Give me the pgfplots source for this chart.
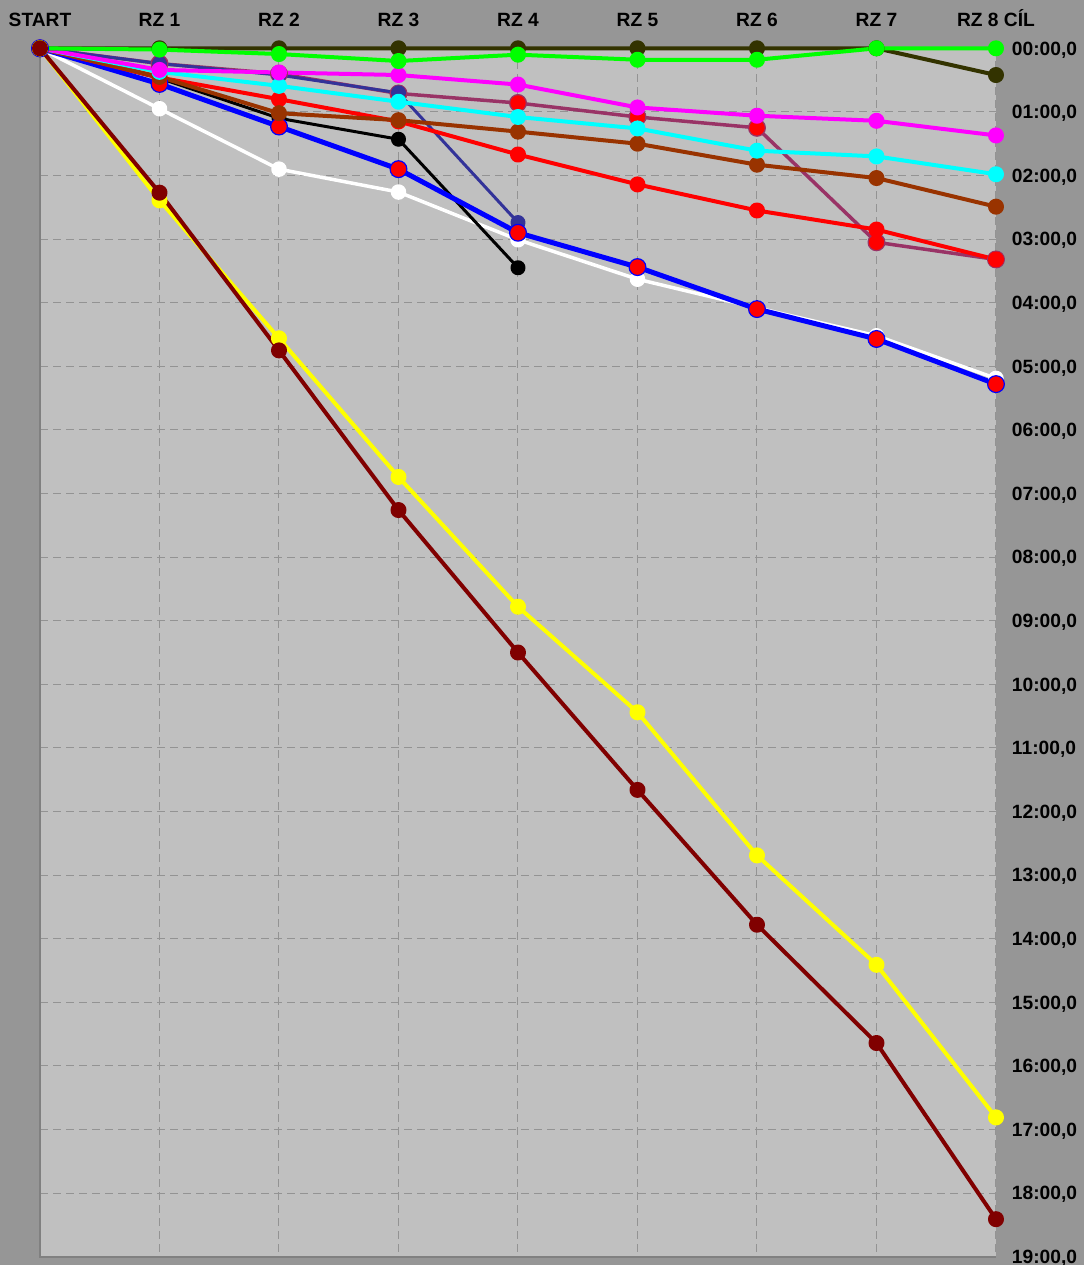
\documentclass[border=0pt]{standalone}
\usepackage{fontspec}
\setmainfont{Liberation Sans}
\usepackage{pgfplots}
\pgfplotsset{compat=1.18}
\definecolor{outerbg}{HTML}{969696}
\definecolor{plotbg}{HTML}{C0C0C0}
\definecolor{gridc}{HTML}{939393}
\definecolor{axgray}{HTML}{808080}
\definecolor{cPlum}{HTML}{993366}
\definecolor{cSlate}{HTML}{333399}
\definecolor{cOlive}{HTML}{333300}
\definecolor{cBrown}{HTML}{993300}
\definecolor{cMaroon}{HTML}{800000}
\definecolor{cGreen}{HTML}{00FF00}
\definecolor{cCyan}{HTML}{00FFFF}
\definecolor{cMag}{HTML}{FF00FF}
\definecolor{cYellow}{HTML}{FFFF00}
\definecolor{cRed}{HTML}{FF0000}
\definecolor{cBlue}{HTML}{0000FF}
\begin{document}
\begin{tikzpicture}
\fill[outerbg] (0,0) rectangle (542pt,632.5pt);
\begin{axis}[
  at={(20pt,4.15pt)}, anchor=south west,
  scale only axis, width=478pt, height=604.2pt,
  xmin=0, xmax=8, ymin=0, ymax=19, y dir=reverse,
  clip=false,
  axis background/.style={fill=plotbg},
  axis line style={draw=none},
  xtick={0,1,2,3,4,5,6,7,8},
  xticklabels={START,RZ 1,RZ 2,RZ 3,RZ 4,RZ 5,RZ 6,RZ 7,RZ 8 CÍL},
  ytick={0,1,...,19},
  yticklabels={{00:00,0},{01:00,0},{02:00,0},{03:00,0},{04:00,0},{05:00,0},{06:00,0},{07:00,0},{08:00,0},{09:00,0},{10:00,0},{11:00,0},{12:00,0},{13:00,0},{14:00,0},{15:00,0},{16:00,0},{17:00,0},{18:00,0},{19:00,0}},
  xticklabel pos=upper, yticklabel pos=right,
  major tick length=0pt,
  grid=major,
  major grid style={gridc, dash pattern=on 4pt off 2.5pt, line width=0.5pt},
  tick label style={font=\fontsize{9.6}{11}\selectfont\bfseries, inner sep=0pt},
  x tick label style={anchor=center, text height=7pt, text depth=0pt, yshift=14.4pt},
  y tick label style={anchor=west, text height=6.8pt, text depth=0pt, xshift=7.8pt},
  every axis plot/.append style={line join=round},
]
\draw[axgray, line width=1pt] (axis cs:0,0) -- (axis cs:0,19) -- (axis cs:8,19);
% plum (big red markers with plum outline)
\addplot[cPlum, line width=1.75pt, mark=*, mark size=4.2pt, mark options={fill=cRed, draw=cPlum, line width=0.6pt}] coordinates {
(0,0) (1,0.24) (2,0.40) (3,0.71) (4,0.86) (5,1.08) (6,1.25) (7,3.05) (8,3.32)};
% slate
\addplot[cSlate, line width=1.5pt, mark=*, mark size=3pt, mark options={fill=cSlate, draw=cSlate}] coordinates {
(0,0) (1,0.24) (2,0.42) (3,0.70) (4,2.74)};
% white
\addplot[white, line width=1.75pt, mark=*, mark size=3pt, mark options={fill=white, draw=white}] coordinates {
(0,0) (1,0.95) (2,1.90) (3,2.26) (4,3.01) (5,3.63) (6,4.08) (7,4.52) (8,5.19)};
% black
\addplot[black, line width=1.5pt, mark=*, mark size=3pt, mark options={fill=black, draw=black}] coordinates {
(0,0) (1,0.47) (2,1.10) (3,1.43) (4,3.45)};
% blue (big red markers with blue outline)
\addplot[cBlue, line width=2.5pt, mark=*, mark size=4.2pt, mark options={fill=cRed, draw=cBlue, line width=0.6pt}] coordinates {
(0,0) (1,0.56) (2,1.23) (3,1.90) (4,2.90) (5,3.44) (6,4.10) (7,4.57) (8,5.28)};
% red
\addplot[cRed, line width=2pt, mark=*, mark size=3pt, mark options={fill=cRed, draw=cRed}] coordinates {
(0,0) (1,0.46) (2,0.80) (3,1.15) (4,1.67) (5,2.14) (6,2.55) (7,2.85) (8,3.32)};
% brown
\addplot[cBrown, line width=2pt, mark=*, mark size=3pt, mark options={fill=cBrown, draw=cBrown}] coordinates {
(0,0) (1,0.45) (2,1.02) (3,1.13) (4,1.31) (5,1.50) (6,1.83) (7,2.04) (8,2.49)};
% cyan
\addplot[cCyan, line width=2pt, mark=*, mark size=3pt, mark options={fill=cCyan, draw=cCyan}] coordinates {
(0,0) (1,0.37) (2,0.59) (3,0.84) (4,1.08) (5,1.26) (6,1.61) (7,1.70) (8,1.98)};
% magenta
\addplot[cMag, line width=2pt, mark=*, mark size=3pt, mark options={fill=cMag, draw=cMag}] coordinates {
(0,0) (1,0.34) (2,0.38) (3,0.42) (4,0.57) (5,0.93) (6,1.06) (7,1.14) (8,1.37)};
% olive
\addplot[cOlive, line width=2pt, mark=*, mark size=3pt, mark options={fill=cOlive, draw=cOlive}] coordinates {
(0,0) (1,0) (2,0) (3,0) (4,0) (5,0) (6,0) (7,0) (8,0.42)};
% green
\addplot[cGreen, line width=2pt, mark=*, mark size=3pt, mark options={fill=cGreen, draw=cGreen}] coordinates {
(0,0) (1,0.02) (2,0.09) (3,0.20) (4,0.10) (5,0.18) (6,0.18) (7,0) (8,0)};
% yellow
\addplot[cYellow, line width=2pt, mark=*, mark size=3pt, mark options={fill=cYellow, draw=cYellow}] coordinates {
(0,0) (1,2.39) (2,4.56) (3,6.74) (4,8.78) (5,10.44) (6,12.69) (7,14.41) (8,16.81)};
% maroon
\addplot[cMaroon, line width=2pt, mark=*, mark size=3pt, mark options={fill=cMaroon, draw=cMaroon}] coordinates {
(0,0) (1,2.27) (2,4.75) (3,7.26) (4,9.50) (5,11.66) (6,13.78) (7,15.64) (8,18.41)};
\end{axis}
\pgfresetboundingbox
\useasboundingbox (0,0) rectangle (542pt,632.5pt);
\end{tikzpicture}
\end{document}
